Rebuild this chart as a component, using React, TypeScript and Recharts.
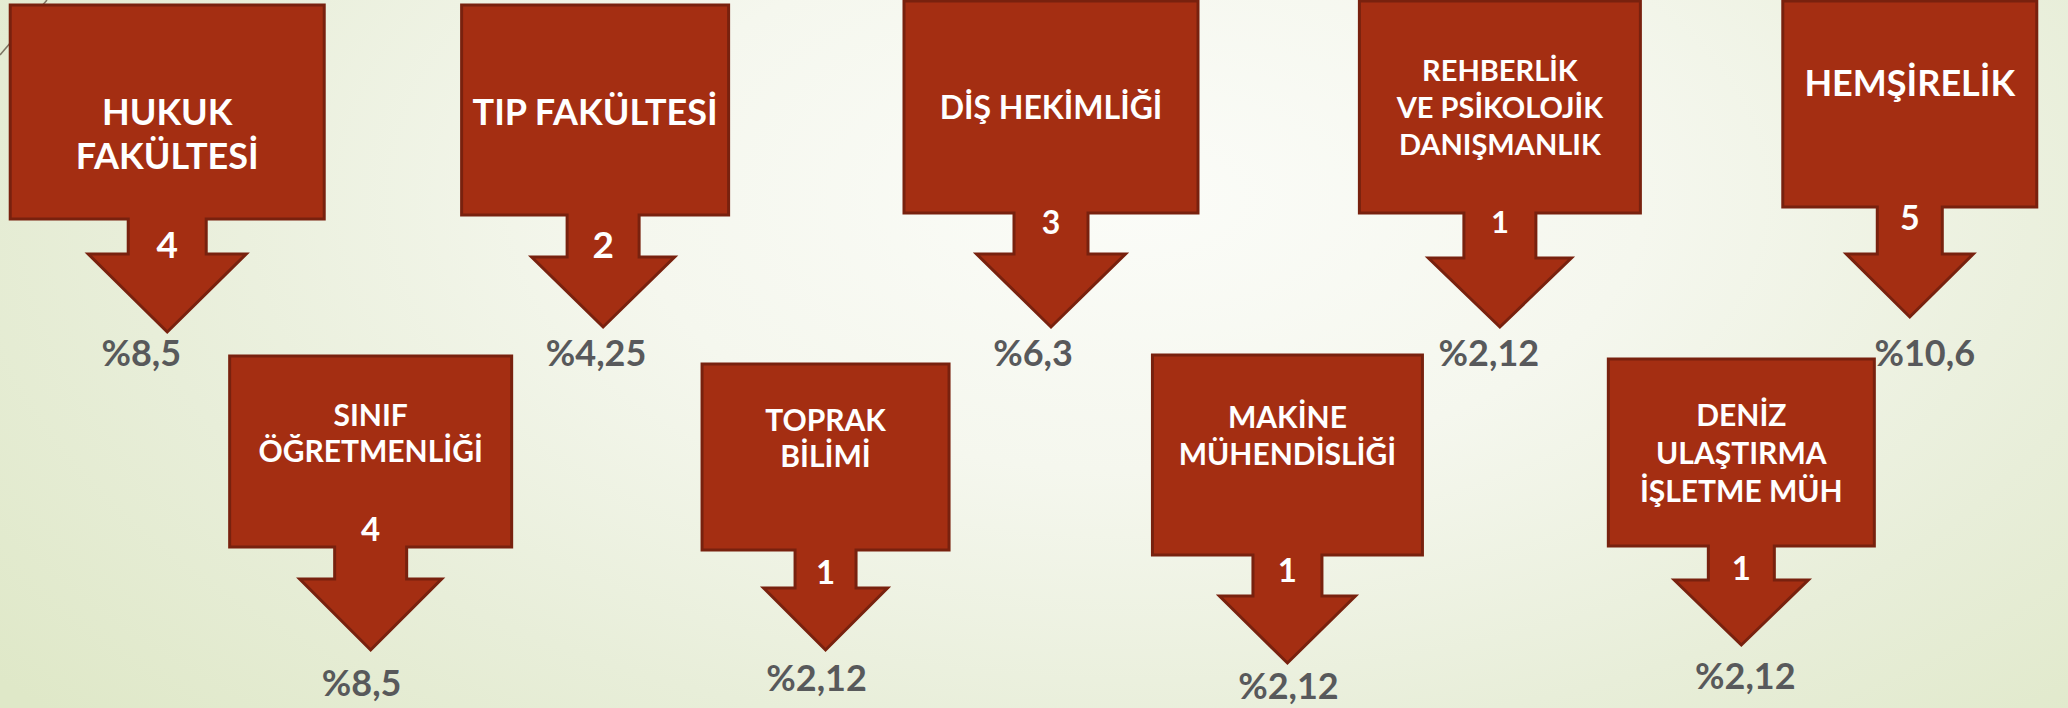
import React from 'react';
import { ScatterChart, Scatter, XAxis, YAxis } from 'recharts';

const W = 2068;
const H = 708;

// bölümler, soldan sağa (üst / alt sıra dönüşümlü)
const LABELS: string[][] = [
    ['HUKUK', 'FAKÜLTESİ'],
    ['SINIF', 'ÖĞRETMENLİĞİ'],
    ['TIP FAKÜLTESİ'],
    ['TOPRAK', 'BİLİMİ'],
    ['DİŞ HEKİMLİĞİ'],
    ['MAKİNE', 'MÜHENDİSLİĞİ'],
    ['REHBERLİK', 'VE PSİKOLOJİK', 'DANIŞMANLIK'],
    ['DENİZ', 'ULAŞTIRMA', 'İŞLETME MÜH'],
    ['HEMŞİRELİK'],
];
const COUNTS = [4, 4, 2, 1, 3, 1, 1, 1, 5];
const PERCENTS = [8.5, 8.5, 4.25, 2.12, 6.3, 2.12, 2.12, 2.12, 10.6];
const ROWS = [0, 1, 0, 1, 0, 1, 0, 1, 0];

const COLORS = {
    fill: '#a42e12',
    border: '#78210e',
    text: '#ffffff',
    pct: '#58595b',
};

// shape sizes / nudges for each callout (not data)
// dx, dy, box w, box h, box dx, stem h, head h, stem w, head w,
// label fs, first line offset, line gap, number offset, number fs, pct dx, pct offset
const SHAPE = [
    [7, 2, 314, 214, 0, 35, 78, 78, 158, 36, 107, 44, 240, 37, -26, 348],
    [-12, -3, 282, 191, 0, 32, 71, 72, 142, 30, 59, 36, 173, 33, -9, 327],
    [-2, 2, 267, 210, -8, 42, 70, 72, 143, 36, 107, 44, 240, 37, -7, 348],
    [-2, 5, 247, 186, 0, 38, 62, 61, 124, 30, 56, 36, 208, 33, -9, 314],
    [1, -2, 294, 212, 0, 41, 73, 74, 149, 32, 106, 38, 221, 32, -18, 352],
    [15, -4, 270, 200, 0, 41, 67, 69, 136, 30, 62, 37, 215, 33, 1, 331],
    [5, -2, 281, 212, 0, 45, 69, 72, 143, 29, 70, 37, 221, 31, -11, 352],
    [24, 0, 266, 187, 0, 34, 65, 66, 134, 30, 56, 38, 209, 33, 4, 317],
    [-30, -2, 254, 206, 0, 47, 63, 65, 127, 36, 82, 44, 217, 34, 15, 352],
];

const FONT = 'Lato, "Open Sans", sans-serif';

const tableData = LABELS.map((lines, i) => ({
    slot: i,
    row: ROWS[i],
    lines,
    count: COUNTS[i],
    pct: PERCENTS[i],
}));

const fmtPct = (v: number) => `%${String(v).replace('.', ',')}`;

const Callout = (props: any) => {
    const { cx, cy, payload } = props;
    if (cx == null || cy == null) return null;
    const i = payload.slot;
    const [dx, dy, bw, bh, bdx, sh, hh, sw, hw, fs, l1, gap, nOff, nfs, pdx, pOff] = SHAPE[i];
    const x = cx + dx;
    const top = cy + dy;
    const bx = x + bdx;
    const L = bx - bw / 2;
    const R = bx + bw / 2;
    const B = top + bh;
    const S = B + sh;
    const pts = [
        [L, top], [R, top], [R, B], [x + sw / 2, B], [x + sw / 2, S], [x + hw / 2, S],
        [x, S + hh], [x - hw / 2, S], [x - sw / 2, S], [x - sw / 2, B], [L, B],
    ].map((p) => p.join(',')).join(' ');

    return (
        <g>
            <polygon points={pts} fill={COLORS.fill} stroke={COLORS.border} strokeWidth={3} strokeLinejoin="miter" />
            {payload.lines.map((t: string, k: number) => (
                <text key={k} x={bx} y={top + l1 + k * gap + fs * 0.36} textAnchor="middle"
                    fontFamily={FONT} fontWeight={700} fontSize={fs} fill={COLORS.text}>{t}</text>
            ))}
            <text x={x} y={top + nOff + nfs * 0.36} textAnchor="middle"
                fontFamily={FONT} fontWeight={700} fontSize={nfs} fill={COLORS.text}>{payload.count}</text>
            <text x={x + pdx} y={top + pOff + 13} textAnchor="middle"
                fontFamily={FONT} fontWeight={700} fontSize={36} fill={COLORS.pct}>{fmtPct(payload.pct)}</text>
        </g>
    );
};

export default function App() {
    return (
        <div style={{
            position: 'absolute', left: 0, top: 0, width: W, height: H, overflow: 'hidden',
            background: 'radial-gradient(ellipse 70% 110% at 55% 28%, #fbfcf8 0%, #f5f7ee 35%, #e8eed9 70%, #dfe8c8 100%)',
        }}>
            <style>{'body{margin:0}'}</style>
            <svg width={60} height={60} style={{ position: 'absolute', left: 0, top: 0 }}>
                <line x1={0} y1={55} x2={47} y2={0} stroke="#7d7563" strokeWidth={1.5} />
            </svg>
            <div style={{ position: 'absolute', left: 0, top: 0 }}>
                <ScatterChart width={W} height={H} margin={{ top: 3, right: 17, bottom: 349, left: 49 }}>
                    <XAxis type="number" dataKey="slot" domain={[-0.5, 8.5]} hide />
                    <YAxis type="number" dataKey="row" domain={[0, 1]} reversed hide />
                    <Scatter data={tableData} isAnimationActive={false} shape={(p: any) => <Callout {...p} />} />
                </ScatterChart>
            </div>
        </div>
    );
}
